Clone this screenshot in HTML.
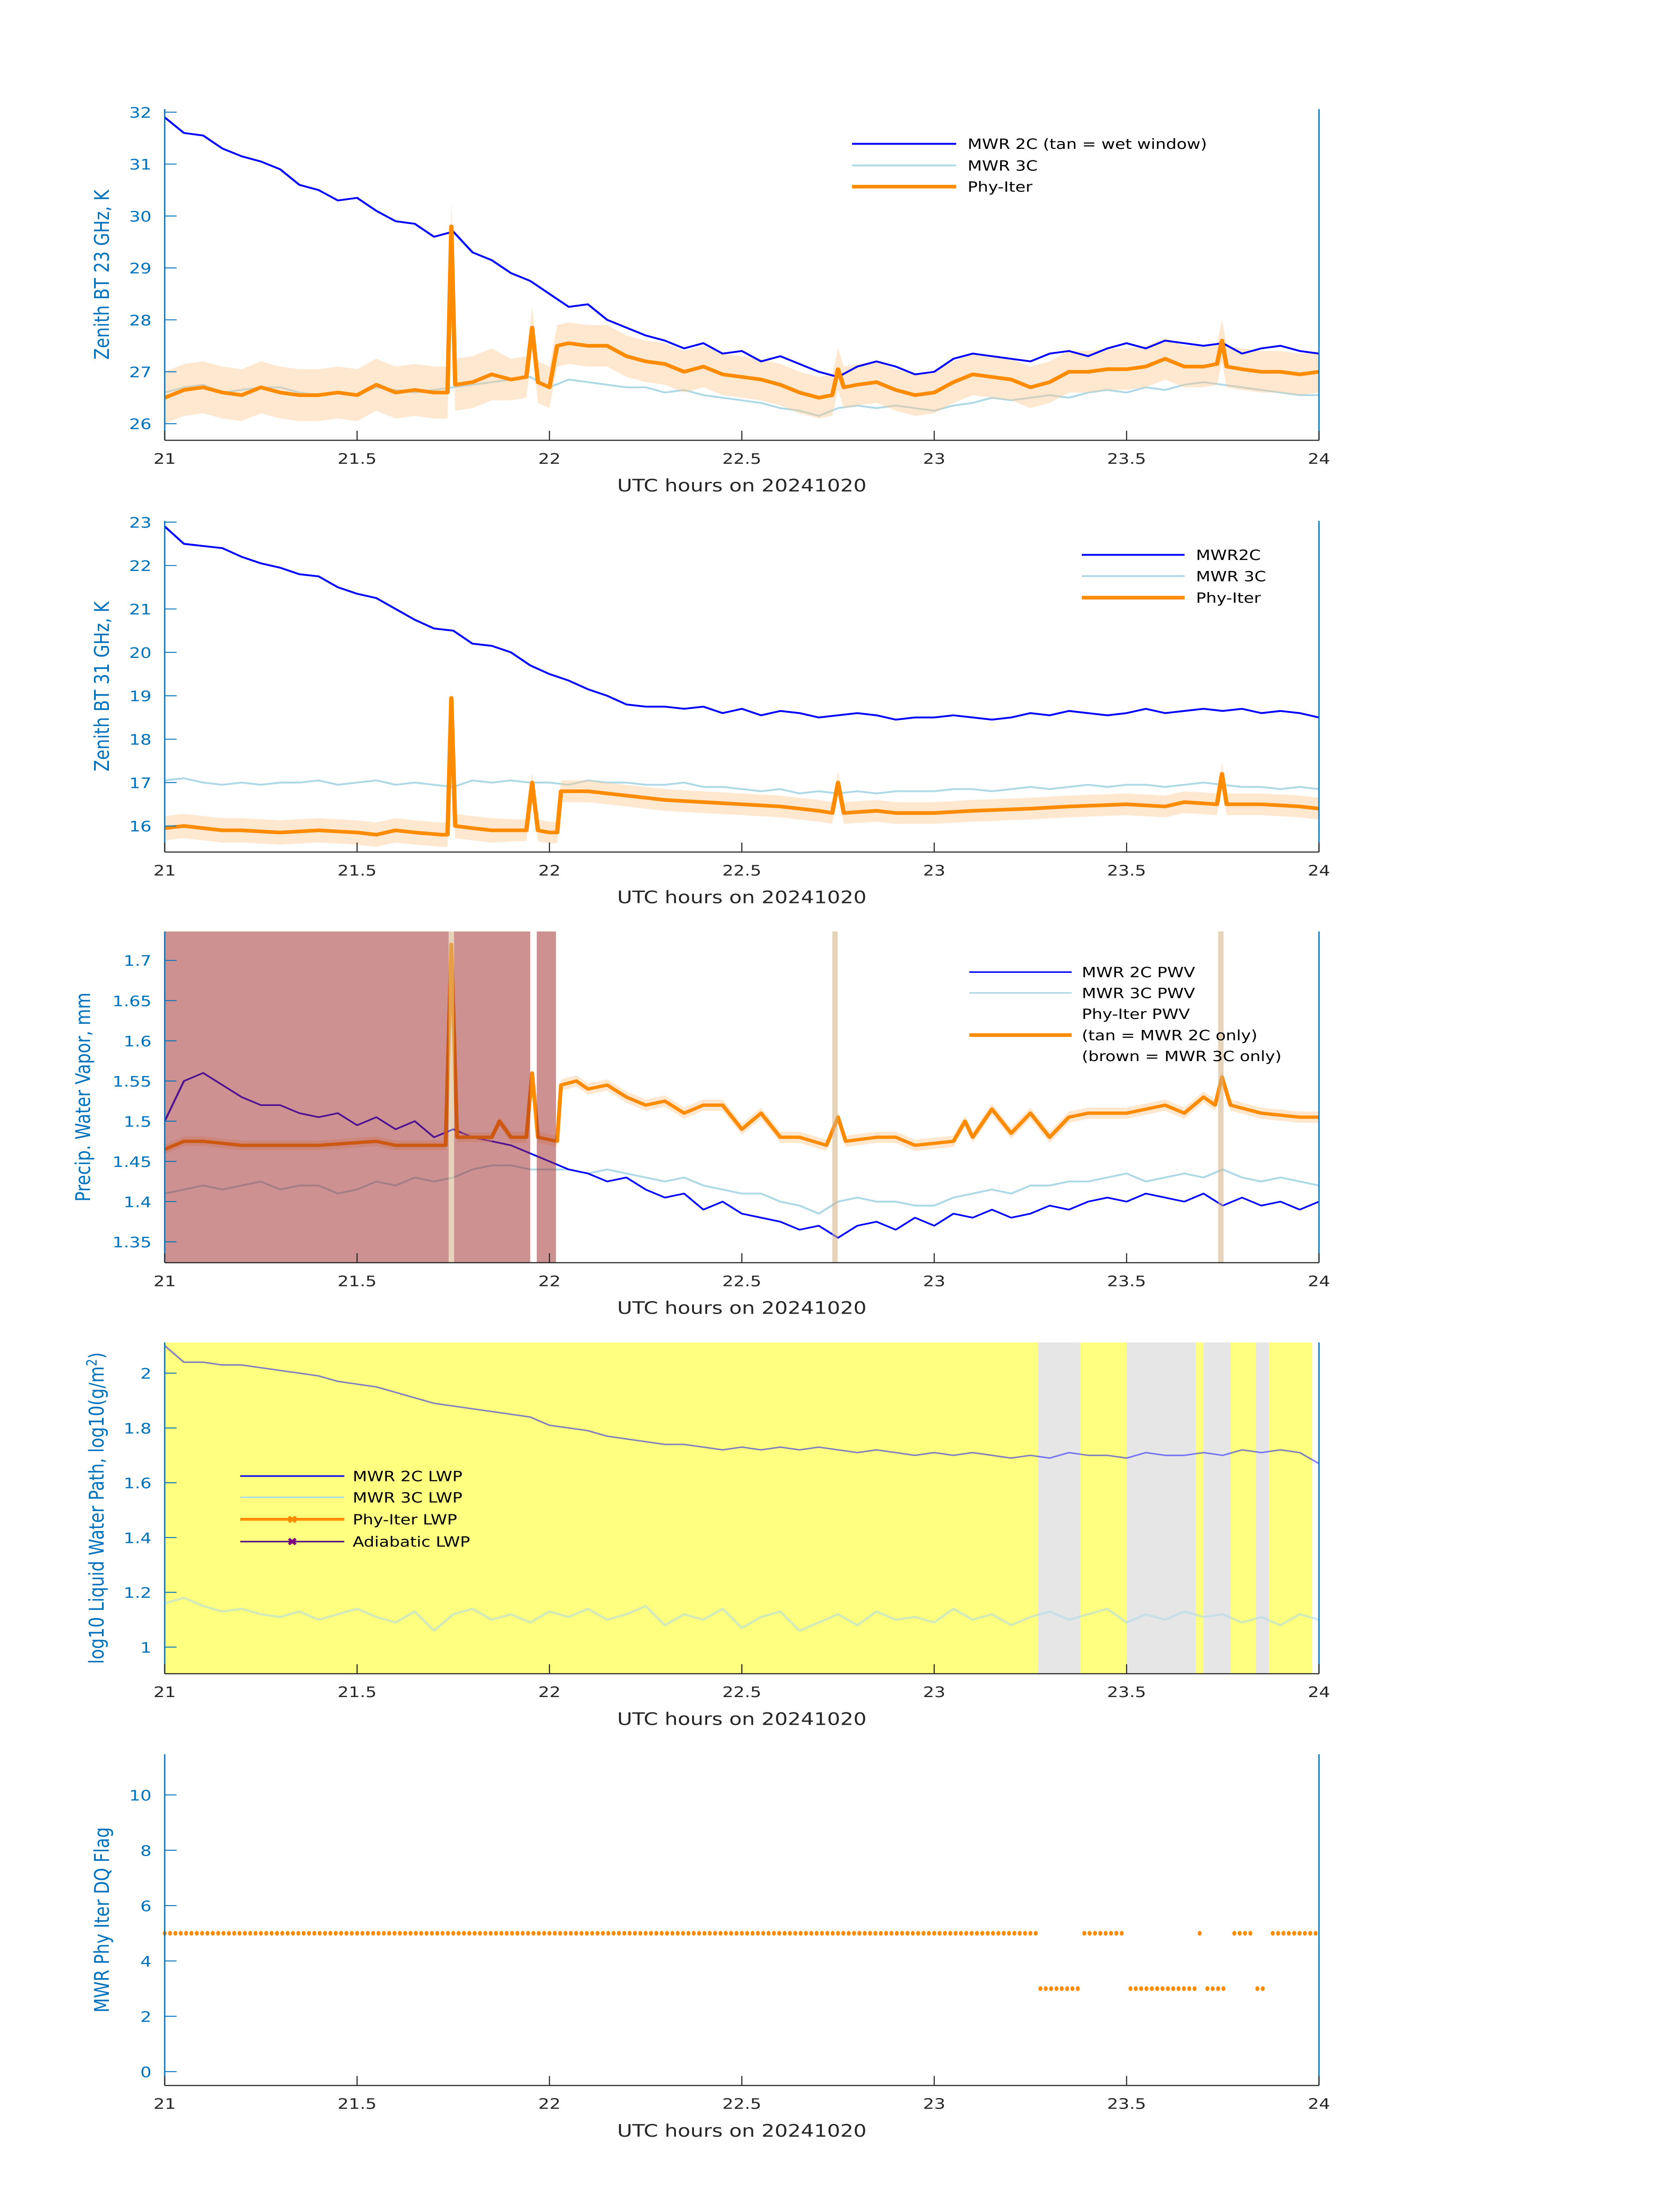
<!DOCTYPE html>
<html><head><meta charset="utf-8"><title>MWR Phy-Iter plots 20241020</title>
<style>
html,body{margin:0;padding:0;background:#fff;width:100%;height:100%;overflow:hidden;}
svg{display:block;position:fixed;left:0;top:0;width:100vw;height:100vh;font-family:"DejaVu Sans","Liberation Sans",sans-serif;}
</style></head>
<body>
<svg id="chart" viewBox="0 0 3825 6000" preserveAspectRatio="none" xmlns="http://www.w3.org/2000/svg">
<rect x="0" y="0" width="3825" height="6000" fill="#fff"/>
</svg>
<script>
// ---------- Shared x grid data ----------
const xTickValues = [21, 21.5, 22, 22.5, 23, 23.5, 24];
const xTickLabels = ["21", "21.5", "22", "22.5", "23", "23.5", "24"];
const gridStart = 21, gridStep = 0.05;

// ---------- Panel 1: 23 GHz ----------
const p1Ticks = [26, 27, 28, 29, 30, 31, 32];
const p1Mwr2c = [31.9,31.6,31.55,31.3,31.15,31.05,30.9,30.6,30.5,30.3,30.35,30.1,29.9,29.85,29.6,29.7,29.3,29.15,28.9,28.75,28.5,28.25,28.3,28.0,27.85,27.7,27.6,27.45,27.55,27.35,27.4,27.2,27.3,27.15,27.0,26.9,27.1,27.2,27.1,26.95,27.0,27.25,27.35,27.3,27.25,27.2,27.35,27.4,27.3,27.45,27.55,27.45,27.6,27.55,27.5,27.55,27.35,27.45,27.5,27.4,27.35];
const p1Mwr3c = [26.6,26.7,26.75,26.6,26.65,26.7,26.7,26.6,26.55,26.6,26.55,26.7,26.65,26.6,26.65,26.7,26.75,26.8,26.85,26.9,26.7,26.85,26.8,26.75,26.7,26.7,26.6,26.65,26.55,26.5,26.45,26.4,26.3,26.25,26.15,26.3,26.35,26.3,26.35,26.3,26.25,26.35,26.4,26.5,26.45,26.5,26.55,26.5,26.6,26.65,26.6,26.7,26.65,26.75,26.8,26.75,26.7,26.65,26.6,26.55,26.55];
const p1PhyT = [21,21.05,21.1,21.15,21.2,21.25,21.3,21.35,21.4,21.45,21.5,21.55,21.6,21.65,21.7,21.735,21.745,21.755,21.8,21.85,21.9,21.94,21.955,21.97,22.0,22.02,22.05,22.1,22.15,22.2,22.25,22.3,22.35,22.4,22.45,22.5,22.55,22.6,22.65,22.7,22.735,22.75,22.765,22.8,22.85,22.9,22.95,23.0,23.05,23.1,23.15,23.2,23.25,23.3,23.35,23.4,23.45,23.5,23.55,23.6,23.65,23.7,23.735,23.748,23.76,23.8,23.85,23.9,23.95,24];
const p1PhyV = [26.5,26.65,26.7,26.6,26.55,26.7,26.6,26.55,26.55,26.6,26.55,26.75,26.6,26.65,26.6,26.6,29.8,26.75,26.8,26.95,26.85,26.9,27.85,26.8,26.7,27.5,27.55,27.5,27.5,27.3,27.2,27.15,27.0,27.1,26.95,26.9,26.85,26.75,26.6,26.5,26.55,27.05,26.7,26.75,26.8,26.65,26.55,26.6,26.8,26.95,26.9,26.85,26.7,26.8,27.0,27.0,27.05,27.05,27.1,27.25,27.1,27.1,27.15,27.6,27.1,27.05,27.0,27.0,26.95,27.0];
const p1Unc = [0.5, 0.4];

// ---------- Panel 2: 31 GHz ----------
const p2Ticks = [16, 17, 18, 19, 20, 21, 22, 23];
const p2Mwr2c = [22.9,22.5,22.45,22.4,22.2,22.05,21.95,21.8,21.75,21.5,21.35,21.25,21.0,20.75,20.55,20.5,20.2,20.15,20.0,19.7,19.5,19.35,19.15,19.0,18.8,18.75,18.75,18.7,18.75,18.6,18.7,18.55,18.65,18.6,18.5,18.55,18.6,18.55,18.45,18.5,18.5,18.55,18.5,18.45,18.5,18.6,18.55,18.65,18.6,18.55,18.6,18.7,18.6,18.65,18.7,18.65,18.7,18.6,18.65,18.6,18.5];
const p2Mwr3c = [17.05,17.1,17.0,16.95,17.0,16.95,17.0,17.0,17.05,16.95,17.0,17.05,16.95,17.0,16.95,16.9,17.05,17.0,17.05,17.0,17.0,16.95,17.05,17.0,17.0,16.95,16.95,17.0,16.9,16.9,16.85,16.8,16.85,16.75,16.8,16.75,16.8,16.75,16.8,16.8,16.8,16.85,16.85,16.8,16.85,16.9,16.85,16.9,16.95,16.9,16.95,16.95,16.9,16.95,17.0,16.95,16.9,16.9,16.85,16.9,16.85];
const p2PhyT = [21,21.05,21.1,21.15,21.2,21.3,21.4,21.5,21.55,21.6,21.65,21.72,21.735,21.745,21.755,21.8,21.85,21.92,21.94,21.955,21.97,22.0,22.02,22.03,22.1,22.2,22.3,22.4,22.5,22.6,22.7,22.735,22.75,22.765,22.85,22.9,23.0,23.1,23.25,23.35,23.5,23.6,23.65,23.735,23.748,23.76,23.85,23.95,24];
const p2PhyV = [15.95,16.0,15.95,15.9,15.9,15.85,15.9,15.85,15.8,15.9,15.85,15.8,15.8,18.95,16.0,15.95,15.9,15.9,15.9,17.0,15.9,15.85,15.85,16.8,16.8,16.7,16.6,16.55,16.5,16.45,16.35,16.3,17.0,16.3,16.35,16.3,16.3,16.35,16.4,16.45,16.5,16.45,16.55,16.5,17.2,16.5,16.5,16.45,16.4];
const p2Unc = [0.28, 0.25];

// ---------- Panel 3: PWV ----------
const p3Ticks = [1.35, 1.4, 1.45, 1.5, 1.55, 1.6, 1.65, 1.7];
const p3TickLabels = ["1.35", "1.4", "1.45", "1.5", "1.55", "1.6", "1.65", "1.7"];
const p3Mwr2c = [1.50,1.55,1.56,1.545,1.53,1.52,1.52,1.51,1.505,1.51,1.495,1.505,1.49,1.5,1.48,1.49,1.48,1.475,1.47,1.46,1.45,1.44,1.435,1.425,1.43,1.415,1.405,1.41,1.39,1.4,1.385,1.38,1.375,1.365,1.37,1.355,1.37,1.375,1.365,1.38,1.37,1.385,1.38,1.39,1.38,1.385,1.395,1.39,1.4,1.405,1.4,1.41,1.405,1.4,1.41,1.395,1.405,1.395,1.4,1.39,1.4];
const p3Mwr3c = [1.41,1.415,1.42,1.415,1.42,1.425,1.415,1.42,1.42,1.41,1.415,1.425,1.42,1.43,1.425,1.43,1.44,1.445,1.445,1.44,1.44,1.44,1.435,1.44,1.435,1.43,1.425,1.43,1.42,1.415,1.41,1.41,1.4,1.395,1.385,1.4,1.405,1.4,1.4,1.395,1.395,1.405,1.41,1.415,1.41,1.42,1.42,1.425,1.425,1.43,1.435,1.425,1.43,1.435,1.43,1.44,1.43,1.425,1.43,1.425,1.42];
const p3PhyT = [21,21.05,21.1,21.2,21.3,21.4,21.55,21.6,21.73,21.745,21.76,21.85,21.87,21.9,21.94,21.955,21.97,22.02,22.03,22.07,22.1,22.15,22.2,22.25,22.3,22.35,22.4,22.45,22.5,22.55,22.6,22.65,22.72,22.75,22.77,22.85,22.9,22.95,23.05,23.08,23.1,23.15,23.2,23.25,23.3,23.35,23.4,23.5,23.6,23.65,23.7,23.73,23.748,23.77,23.85,23.95,24];
const p3PhyV = [1.465,1.475,1.475,1.47,1.47,1.47,1.475,1.47,1.47,1.72,1.48,1.48,1.5,1.48,1.48,1.56,1.48,1.475,1.545,1.55,1.54,1.545,1.53,1.52,1.525,1.51,1.52,1.52,1.49,1.51,1.48,1.48,1.47,1.505,1.475,1.48,1.48,1.47,1.475,1.5,1.48,1.515,1.485,1.51,1.48,1.505,1.51,1.51,1.52,1.51,1.53,1.52,1.555,1.52,1.51,1.505,1.505];
const p3Unc = [0.006, 0.007];
const p3BrownStart = [21.0, 21.752, 21.967];
const p3BrownEnd = [21.738, 21.95, 22.017];
const p3TanStart = [21.738, 22.735, 23.738];
const p3TanEnd = [21.752, 22.749, 23.752];

// ---------- Panel 4: LWP ----------
const p4Ticks = [1, 1.2, 1.4, 1.6, 1.8, 2];
const p4TickLabels = ["1", "1.2", "1.4", "1.6", "1.8", "2"];
const p4Mwr2c = [2.10,2.04,2.04,2.03,2.03,2.02,2.01,2.0,1.99,1.97,1.96,1.95,1.93,1.91,1.89,1.88,1.87,1.86,1.85,1.84,1.81,1.8,1.79,1.77,1.76,1.75,1.74,1.74,1.73,1.72,1.73,1.72,1.73,1.72,1.73,1.72,1.71,1.72,1.71,1.70,1.71,1.70,1.71,1.70,1.69,1.70,1.69,1.71,1.70,1.70,1.69,1.71,1.70,1.70,1.71,1.70,1.72,1.71,1.72,1.71,1.67];
const p4Mwr3c = [1.16,1.18,1.15,1.13,1.14,1.12,1.11,1.13,1.10,1.12,1.14,1.11,1.09,1.13,1.06,1.12,1.14,1.10,1.12,1.09,1.13,1.11,1.14,1.10,1.12,1.15,1.08,1.12,1.10,1.14,1.07,1.11,1.13,1.06,1.09,1.12,1.08,1.13,1.10,1.11,1.09,1.14,1.10,1.12,1.08,1.11,1.13,1.10,1.12,1.14,1.09,1.12,1.10,1.13,1.11,1.12,1.09,1.11,1.08,1.12,1.10];
const p4YellowStart = [21.0];
const p4YellowEnd = [23.983];
const p4GreyStart = [23.27, 23.50, 23.70, 23.836];
const p4GreyEnd = [23.38, 23.68, 23.77, 23.87];

// ---------- Panel 5: DQ flag ----------
const p5Ticks = [0, 2, 4, 6, 8, 10];
const p5RunStart = [21.0, 23.39, 23.69, 23.78, 23.88, 23.276, 23.51, 23.71, 23.84];
const p5RunEnd = [23.27, 23.49, 23.69, 23.83, 23.995, 23.382, 23.68, 23.76, 23.86];
const p5RunFlag = [5, 5, 5, 5, 5, 3, 3, 3, 3];
const p5SampleStep = 1/72;

// ---------- Layout ----------
const SVGNS = "http://www.w3.org/2000/svg";
const svg = document.getElementById("chart");
const X0 = 375, X1 = 3003, PH = 905;
const tops = [298, 1423, 2545, 3668, 4793];
const titleX = [248, 248, 205, 236, 248];
const ranges = [[25.68, 32.06], [15.4, 23.03], [1.324, 1.736], [0.903, 2.112], [-0.5, 11.47]];
const BLUE_AX = "#0072BD";
function xs(t) { return X0 + (t - 21) / 3 * (X1 - X0); }
function ysFor(i) { const top = tops[i], r = ranges[i]; return v => top + PH - (v - r[0]) / (r[1] - r[0]) * PH; }
function mk(tag, attrs, parent) { const e = document.createElementNS(SVGNS, tag); for (const k in attrs) e.setAttribute(k, attrs[k]); (parent || svg).appendChild(e); return e; }
function gridTimes(n) { const a = []; for (let i = 0; i < n; i++) a.push(gridStart + i * gridStep); return a; }
function pathD(ts, vs, ys) { return ts.map((t, i) => (i ? "L" : "M") + xs(t).toFixed(1) + " " + ys(vs[i]).toFixed(1)).join(""); }

function drawLine(g, ts, vs, ys, color, w, op, name) {
  const p = mk("path", { d: pathD(ts, vs, ys), fill: "none", stroke: color, "stroke-width": w, "stroke-linejoin": "round", opacity: op }, g);
  
  
  return p;
}
function drawBand(g, ts, vs, ys, unc, split, name) {
  const up = ts.map((t, i) => [xs(t), ys(vs[i] + (t < split ? unc[0] : unc[1]))]);
  const lo = ts.map((t, i) => [xs(t), ys(vs[i] - (t < split ? unc[0] : unc[1]))]).reverse();
  const d = "M" + up.concat(lo).map(p => p[0].toFixed(1) + " " + p[1].toFixed(1)).join("L") + "Z";
  const p = mk("path", { d: d, fill: "rgb(255,200,140)", opacity: 0.42, stroke: "none" }, g);
  
  
}
function drawSpans(g, i, starts, ends, color, op, name) {
  starts.forEach((s, k) => {
    const r = mk("rect", { x: xs(s), y: tops[i], width: Math.max(2, xs(ends[k]) - xs(s)), height: PH, fill: color, opacity: op }, g);
    
    
  });
}
function drawAxes(i, yTicks, yLabels, yTitle) {
  const g = mk("g", {});
  
  
  const ys = ysFor(i), top = tops[i], bot = top + PH;
  const yl = mk("line", { x1: X0, y1: top, x2: X0, y2: bot, stroke: BLUE_AX, "stroke-width": 3 }, g);
  
  
  const yr = mk("line", { x1: X1, y1: top, x2: X1, y2: bot, stroke: BLUE_AX, "stroke-width": 3 }, g);
  
  
  const xl = mk("line", { x1: X0, y1: bot, x2: X1, y2: bot, stroke: "#262626", "stroke-width": 3 }, g);
  
  
  xTickValues.forEach((t, k) => {
    const tk = mk("line", { x1: xs(t), y1: bot, x2: xs(t), y2: bot - 26, stroke: "#262626", "stroke-width": 2.5 }, g);
    
    
    const tx = mk("text", { x: xs(t), y: bot + 64, "font-size": 40, fill: "#262626", "text-anchor": "middle" }, g);
    tx.textContent = xTickLabels[k];
    
    
  });
  const xt = mk("text", { x: (X0 + X1) / 2, y: bot + 140, "font-size": 47, fill: "#262626", "text-anchor": "middle" }, g);
  xt.textContent = "UTC hours on 20241020";
  
  
  yTicks.forEach((v, k) => {
    const tk = mk("line", { x1: X0, y1: ys(v), x2: X0 + 27, y2: ys(v), stroke: BLUE_AX, "stroke-width": 2.5 }, g);
    
    
    const tx = mk("text", { x: X0 - 30, y: ys(v) + 15, "font-size": 40, fill: BLUE_AX, "text-anchor": "end" }, g);
    tx.textContent = yLabels[k];
    
    
  });
  const cy = top + PH / 2;
  const t = mk("text", { x: 0, y: 0, "font-size": 46, fill: BLUE_AX, "text-anchor": "middle", transform: "translate(" + titleX[i] + "," + cy + ") rotate(-90)" }, g);
  t.innerHTML = yTitle;
  
  
}
function legendEntry(g, x1, x2, tx, y, color, w, label, marker, op) {
  if (color) {
    const l = mk("line", { x1: x1, y1: y, x2: x2, y2: y, stroke: color, "stroke-width": w, opacity: op || 1 }, g);
    
    
    if (marker) {
      const m = mk("text", { x: (x1 + x2) / 2, y: y + 11, "font-size": 30, "font-weight": "bold", fill: marker, "text-anchor": "middle" }, g);
      m.textContent = "✖";
      
      
    }
  }
  const t = mk("text", { x: tx, y: y + 14, "font-size": 38, fill: "#000" }, g);
  t.textContent = label;
  
  
}

// ---------- Panel 1 ----------
(function () {
  const g = mk("g", {});
  
  
  const ys = ysFor(0), T = gridTimes(p1Mwr2c.length);
  drawLine(g, T, p1Mwr3c, ys, "#ADD8E6", 5, 1, "mwr3c-23ghz-line");
  drawBand(g, p1PhyT, p1PhyV, ys, p1Unc, 21.9, "phyiter-23ghz-band");
  drawLine(g, T, p1Mwr2c, ys, "#0000FF", 5, 1, "mwr2c-23ghz-line");
  drawLine(g, p1PhyT, p1PhyV, ys, "#FF8C00", 10, 1, "phyiter-23ghz-line");
  drawAxes(0, p1Ticks, p1Ticks.map(String), "Zenith BT 23 GHz, K");
  const lg = mk("g", {});
  
  
  legendEntry(lg, 1940, 2177, 2203, 393, "#0000FF", 5, "MWR 2C (tan = wet window)");
  legendEntry(lg, 1940, 2177, 2203, 452, "#ADD8E6", 5, "MWR 3C");
  legendEntry(lg, 1940, 2177, 2203, 510, "#FF8C00", 10, "Phy-Iter");
})();

// ---------- Panel 2 ----------
(function () {
  const g = mk("g", {});
  
  
  const ys = ysFor(1), T = gridTimes(p2Mwr2c.length);
  drawLine(g, T, p2Mwr3c, ys, "#ADD8E6", 5, 1, "mwr3c-31ghz-line");
  drawBand(g, p2PhyT, p2PhyV, ys, p2Unc, 21.9, "phyiter-31ghz-band");
  drawLine(g, T, p2Mwr2c, ys, "#0000FF", 5, 1, "mwr2c-31ghz-line");
  drawLine(g, p2PhyT, p2PhyV, ys, "#FF8C00", 10, 1, "phyiter-31ghz-line");
  drawAxes(1, p2Ticks, p2Ticks.map(String), "Zenith BT 31 GHz, K");
  const lg = mk("g", {});
  
  
  legendEntry(lg, 2463, 2697, 2723, 1516, "#0000FF", 5, "MWR2C");
  legendEntry(lg, 2463, 2697, 2723, 1574, "#ADD8E6", 5, "MWR 3C");
  legendEntry(lg, 2463, 2697, 2723, 1633, "#FF8C00", 10, "Phy-Iter");
})();

// ---------- Panel 3 ----------
(function () {
  const g = mk("g", {});
  
  
  const ys = ysFor(2), T = gridTimes(p3Mwr2c.length);
  drawLine(g, T, p3Mwr3c, ys, "#ADD8E6", 5, 1, "mwr3c-pwv-line");
  drawLine(g, T, p3Mwr2c, ys, "#0000FF", 4.5, 1, "mwr2c-pwv-line");
  drawBand(g, p3PhyT, p3PhyV, ys, p3Unc, 21.9, "phyiter-pwv-band");
  drawLine(g, p3PhyT, p3PhyV, ys, "#FF8C00", 9, 1, "phyiter-pwv-line");
  drawSpans(g, 2, p3BrownStart, p3BrownEnd, "rgb(155,35,35)", 0.5, "mwr3c-only-shading");
  drawSpans(g, 2, p3TanStart, p3TanEnd, "rgb(210,175,130)", 0.55, "mwr2c-only-shading");
  drawAxes(2, p3Ticks, p3TickLabels, "Precip. Water Vapor, mm");
  const lg = mk("g", {});
  
  
  legendEntry(lg, 2207, 2440, 2463, 2656, "#0000FF", 4, "MWR 2C PWV");
  legendEntry(lg, 2207, 2440, 2463, 2713, "#ADD8E6", 4, "MWR 3C PWV");
  legendEntry(lg, 0, 0, 2463, 2770, null, 0, "Phy-Iter PWV");
  legendEntry(lg, 2207, 2440, 2463, 2828, "#FF8C00", 10, "(tan = MWR 2C only)");
  legendEntry(lg, 0, 0, 2463, 2885, null, 0, "(brown = MWR 3C only)");
})();

// ---------- Panel 4 ----------
(function () {
  const g = mk("g", {});
  
  
  const ys = ysFor(3), T = gridTimes(p4Mwr2c.length);
  drawSpans(g, 3, p4YellowStart, p4YellowEnd, "#FFFF80", 1, "yellow-shading");
  drawSpans(g, 3, p4GreyStart, p4GreyEnd, "#E6E6E6", 1, "grey-shading");
  drawLine(g, T, p4Mwr3c, ys, "#ADD8E6", 6, 0.55, "mwr3c-lwp-line");
  drawLine(g, T, p4Mwr2c, ys, "#0000FF", 4, 0.5, "mwr2c-lwp-line");
  drawAxes(3, p4Ticks, p4TickLabels, 'log10 Liquid Water Path, log10(g/m<tspan dy="-16" font-size="32">2</tspan><tspan dy="16">)</tspan>');
  const lg = mk("g", {});
  
  
  legendEntry(lg, 547, 784, 803, 4033, "#0000FF", 4, "MWR 2C LWP");
  legendEntry(lg, 547, 784, 803, 4091, "#ADD8E6", 4, "MWR 3C LWP");
  legendEntry(lg, 547, 784, 803, 4151, "#FF8C00", 8, "Phy-Iter LWP", "#FF8C00");
  legendEntry(lg, 547, 784, 803, 4212, "#4B0082", 4, "Adiabatic LWP", "#800080");
})();

// ---------- Panel 5 ----------
(function () {
  const g = mk("g", {});
  
  
  const ys = ysFor(4);
  p5RunStart.forEach((s, k) => {
    for (let t = s; t <= p5RunEnd[k] + 1e-9; t += p5SampleStep) {
      const c = mk("ellipse", { cx: xs(t), cy: ys(p5RunFlag[k]), rx: 4.5, ry: 6.5, fill: "#FF8C00" }, g);
      
      
    }
  });
  drawAxes(4, p5Ticks, p5Ticks.map(String), "MWR Phy Iter DQ Flag");
})();
</script>
</body></html>
